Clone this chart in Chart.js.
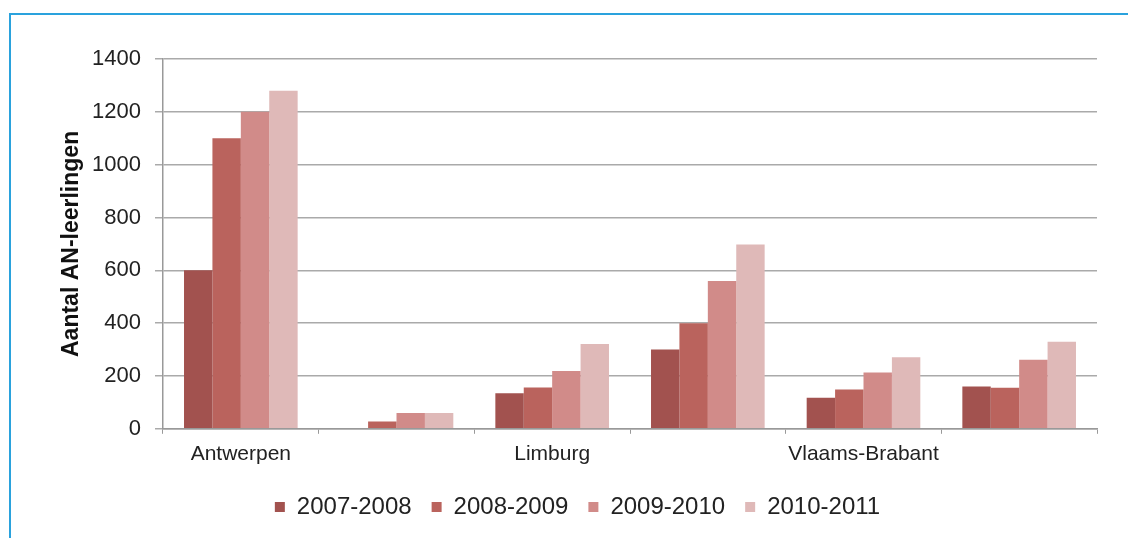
<!DOCTYPE html>
<html>
<head>
<meta charset="utf-8">
<script src="https://cdn.jsdelivr.net/npm/chart.js@4"></script>
<style>
  html, body { margin: 0; padding: 0; background: #fff; }
  #frame {
    position: absolute; left: 9px; top: 13px; width: 1130px; height: 540px;
    border-left: 2px solid #2aa2dd; border-top: 2px solid #2aa2dd;
  }
  #wrap { position: absolute; left: 0; top: 0; width: 1128px; height: 538px; }
</style>
</head>
<body>
<div id="frame"></div>
<div id="wrap"><canvas id="provChart"></canvas></div>
<script>
const provincies = ['Antwerpen', 'Brussel', 'Limburg', 'Oost-Vlaanderen', 'Vlaams-Brabant', 'West-Vlaanderen'];
const jaren = ['2007-2008', '2008-2009', '2009-2010', '2010-2011'];
const v2007 = [600, 0, 135, 300, 118, 160];
const v2008 = [1100, 28, 156, 400, 149, 155];
const v2009 = [1200, 60, 219, 560, 213, 261];
const v2010 = [1280, 60, 321, 698, 271, 330];
const kleuren = ['#a2524f', '#ba635d', '#d18b89', '#dfb9b8'];

const reeksen = [v2007, v2008, v2009, v2010];

var ctx = document.getElementById("provChart");
var provChart = new Chart(ctx, {
    type: 'bar',
    data: {
        labels: provincies,
        datasets: reeksen.map(function (vals, i) {
            return {
                label: jaren[i],
                data: vals,
                backgroundColor: kleuren[i],
                borderWidth: 0,
                categoryPercentage: 0.73,
                barPercentage: 1.0
            };
        })
    },
    options: {
        responsive: true,
        maintainAspectRatio: false,
        animation: false,
        layout: { padding: { left: 58, right: 31, top: 59, bottom: 9 } },
        plugins: {
            tooltip: { enabled: false },
            legend: {
                position: 'bottom',
                labels: {
                    boxWidth: 10,
                    boxHeight: 10,
                    padding: 20,
                    color: '#222',
                    font: { family: 'Liberation Sans, Arial, sans-serif', size: 24 }
                }
            }
        },
        scales: {
            x: {
                grid: { drawOnChartArea: false, drawTicks: true, tickLength: 5, color: '#999' },
                border: { color: '#999', width: 1.5 },
                ticks: {
                    autoSkip: false,
                    maxRotation: 0,
                    padding: 8,
                    color: '#222',
                    font: { family: 'Liberation Sans, Arial, sans-serif', size: 21 },
                    // Excel toont maar om de andere provincie
                    callback: function (val, idx) { return idx % 2 === 0 ? this.getLabelForValue(val) : ''; }
                }
            },
            y: {
                min: 0,
                max: 1400,
                ticks: {
                    stepSize: 200,
                    padding: 14,
                    color: '#222',
                    font: { family: 'Liberation Sans, Arial, sans-serif', size: 22 },
                    callback: function (val) { return String(val); }
                },
                grid: { color: '#aaa', lineWidth: 1.5, tickLength: 8 },
                border: { color: '#999', width: 1.5 },
                title: {
                    display: true,
                    text: 'Aantal AN-leerlingen',
                    color: '#111',
                    padding: { top: 0, bottom: 0 },
                    font: { family: 'Liberation Sans, Arial, sans-serif', size: 23, weight: 'bold' }
                },
                afterFit: function (scale) { scale.width = 105; }
            }
        }
    }
});
</script>
</body>
</html>
